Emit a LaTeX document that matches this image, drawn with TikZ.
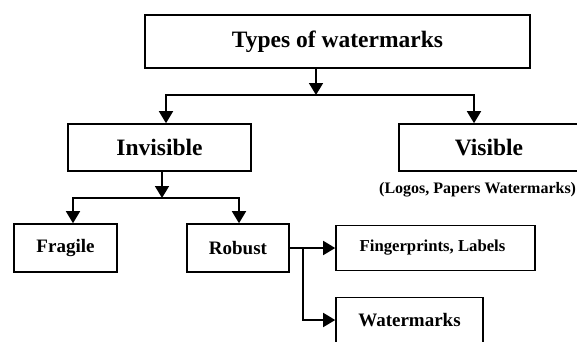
\documentclass[tikz,border=0pt]{standalone}
\usepackage{fontspec}
\setmainfont{Liberation Serif}
\usetikzlibrary{arrows.meta,positioning}

\begin{document}
\begin{tikzpicture}[x=1pt,y=-1pt,
					box/.style={draw,line width=1.6pt,inner sep=0pt,
							font=\fontsize{23.5}{26}\selectfont\bfseries},
					smallbox/.style={box,font=\fontsize{19}{21}\selectfont\bfseries},
					line/.style={line width=1.6pt},
					arr/.style={line,-{Triangle[length=12pt,width=14pt]}}]
				\useasboundingbox (0,0) rectangle (577,341);
				\node[box,minimum width=385pt,minimum height=53pt] (top) at (337.5,41.5) {Types of watermarks};
				\node[box,minimum width=183pt,minimum height=47pt] (inv) at (159.5,147.5) {Invisible};
				\node[box,minimum width=180pt,minimum height=47pt] (vis) at (489,147.5) {Visible};
				\node[font=\fontsize{16}{18}\selectfont\bfseries,anchor=west,inner xsep=0pt] (vistxt) at (379,190) {(Logos, Papers Watermarks)};
				\node[smallbox,minimum width=103pt,minimum height=48pt] (frag) at (65.5,248) {Fragile};
				\node[smallbox,minimum width=102pt,minimum height=48pt] (rob)  at (238,248) {Robust};
				\node[smallbox,font=\fontsize{16.7}{18}\selectfont\bfseries,
					minimum width=199pt,minimum height=45pt] (fing) at (435.5,248) {Fingerprints, Labels\hspace*{6pt}};
				\node[smallbox,minimum width=147pt,minimum height=45pt] (wm) at (409.5,320) {Watermarks};
				% branch points
				\coordinate (ja) at (316,95);
				\coordinate (jb) at (162,198);
				\coordinate (jc) at (303,248);
				\draw[arr] (top.south -| ja)--(ja);
				\draw[arr] (ja) -| ([xshift=6.5pt]inv.north);
				\draw[arr] (ja) -| ([xshift=-15pt]vis.north);
				\draw[arr] (inv.south -| jb)--(jb);
				\draw[arr] (jb) -| ([xshift=7.5pt]frag.north);
				\draw[arr] (jb) -| ([xshift=1pt]rob.north);
				\draw[arr] (rob.east)--(fing.west);
				\draw[arr] (jc) |- (wm.west);
			\end{tikzpicture}
\end{document}
